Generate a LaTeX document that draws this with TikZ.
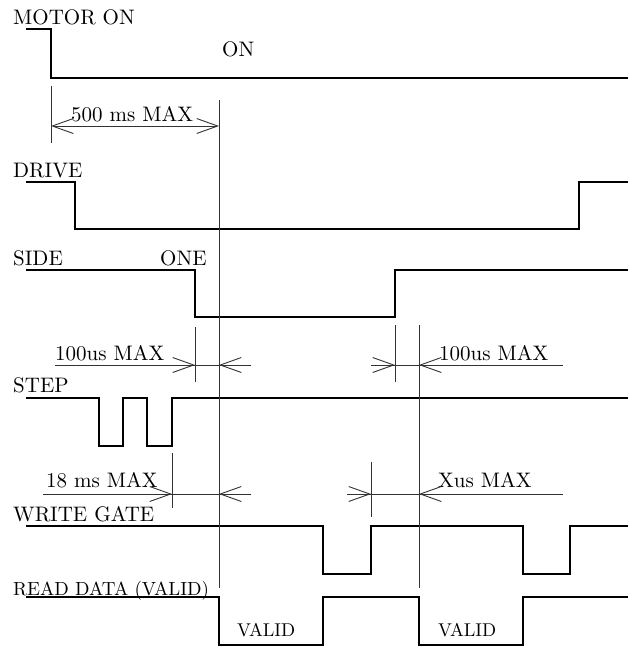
\documentclass[tikz,border=0pt]{standalone}
\usetikzlibrary{arrows.meta}
\newcommand{\sbig}[1]{\scalebox{2.1}{#1}}
\newcommand{\smid}[1]{\scalebox{1.9}{#1}}
\newcommand{\ssml}[1]{\scalebox{1.85}{#1}}
\begin{document}
\begin{tikzpicture}[x=1pt,y=-1pt,
  sig/.style={line width=2.4pt,line join=miter,line cap=rect},
  dim/.style={line width=0.9pt,black!80},
  barb/.style={dim,-{Straight Barb[length=21pt,width=15pt,line width=0.9pt]}},
  lbl/.style={anchor=base west,inner sep=0pt,font=\normalsize}]
\useasboundingbox (0,0) rectangle (636,648);
% labels
\node[lbl] (lmotor) at (13,24) {\sbig{MOTOR ON}};
\node[lbl] (lon) at (222,56) {\sbig{ON}};
\node[lbl] (ldrive) at (13,177) {\sbig{DRIVE}};
\node[lbl] (lside) at (13,265) {\sbig{SIDE}};
\node[lbl] (lone) at (160,265) {\sbig{ONE}};
\node[lbl] (lstep) at (13,392) {\sbig{STEP}};
\node[lbl] (lwg) at (13,521) {\sbig{WRITE GATE}};
\node[lbl] (lrd) at (13,595) {\smid{READ DATA (VALID)}};
\node[lbl] (d500) at (71,121) {\sbig{500 ms MAX}};
\node[lbl] (d100a) at (55,360) {\sbig{100us MAX}};
\node[lbl] (d100b) at (439,360) {\sbig{100us MAX}};
\node[lbl] (d18) at (46,487) {\sbig{18 ms MAX}};
\node[lbl] (dx) at (438,487) {\sbig{Xus MAX}};
\node[lbl] (v1) at (237,636) {\ssml{VALID}};
\node[lbl] (v2) at (438,636) {\ssml{VALID}};
% waveforms
\draw[sig] (27,29) -- (51,29) -- (51,78) -- (627,78);
\draw[sig] (27,182) -- (75,182) -- (75,229) -- (579,229) -- (579,182) -- (627,182);
\draw[sig] (27,270) -- (195,270) -- (195,317) -- (395,317) -- (395,270) -- (627,270);
\draw[sig] (27,398) -- (99,398) -- (99,446) -- (123,446) -- (123,398) -- (147,398)
  -- (147,446) -- (172,446) -- (172,398) -- (627,398);
\draw[sig] (27,526) -- (323,526) -- (323,574) -- (371,574) -- (371,526) -- (523,526)
  -- (523,574) -- (570,574) -- (570,526) -- (627,526);
\draw[sig] (27,597) -- (219,597) -- (219,645) -- (323,645) -- (323,597) -- (419,597)
  -- (419,645) -- (523,645) -- (523,597) -- (627,597);
% extension lines
\draw[dim] (51,86) -- (51,143);
\draw[dim] (219,100) -- (219,588);
\draw[dim] (195,327) -- (195,382);
\draw[dim] (395,325) -- (395,382);
\draw[dim] (419,325) -- (419,588);
\draw[dim] (172,453) -- (172,508);
\draw[dim] (371,462) -- (371,517);
% dimension arrows
\draw[dim,{Straight Barb[length=21pt,width=15pt,line width=0.9pt]}-{Straight Barb[length=21pt,width=15pt,line width=0.9pt]}] (51,126) -- (219,126);
\draw[dim] (55,365) -- (251,365);
\draw[barb] (160,365) -- (195,365);
\draw[barb] (251,365) -- (219,365);
\draw[dim] (371,365) -- (563,365);
\draw[barb] (371,365) -- (395,365);
\draw[barb] (460,365) -- (419,365);
\draw[dim] (43,494) -- (251,494);
\draw[barb] (130,494) -- (172,494);
\draw[barb] (251,494) -- (219,494);
\draw[dim] (347,494) -- (563,494);
\draw[barb] (347,494) -- (371,494);
\draw[barb] (460,494) -- (419,494);
\end{tikzpicture}
\end{document}
